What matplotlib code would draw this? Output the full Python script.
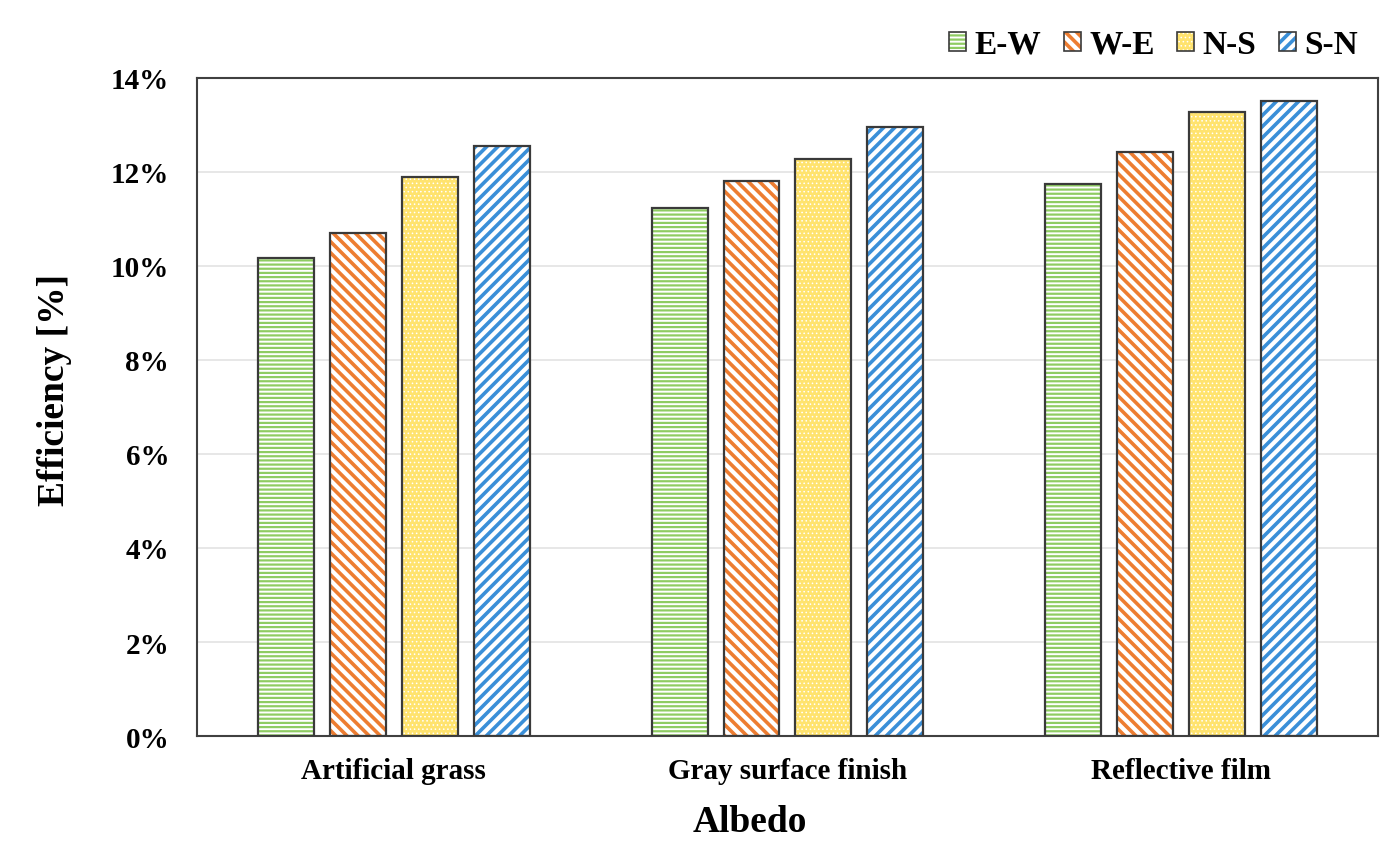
import numpy as np
import matplotlib
matplotlib.use("Agg")
import matplotlib.pyplot as plt
from matplotlib.patches import Patch, Rectangle
from matplotlib.legend_handler import HandlerBase
from matplotlib.ticker import FuncFormatter

# data (efficiency in %)
categories = ["Artificial grass", "Gray surface finish", "Reflective film"]
series = ["E-W", "W-E", "N-S", "S-N"]
ew = [10.17, 11.23, 11.74]
we = [10.70, 11.81, 12.43]
ns = [11.89, 12.28, 13.28]
sn = [12.55, 12.96, 13.51]
yticks = [0, 2, 4, 6, 8, 10, 12, 14]

values = [ew, we, ns, sn]
faces = ["white", "white", "#FFE36E", "white"]
hatch_colors = ["#8FCC62", "#ED7D31", "white", "#3A8FD8"]
hatches = ["----", "\\\\\\", "....", "///"]
hatch_lw = [1.6, 2.6, 0.6, 2.6]
OUTLINE = "#3a3a3a"


def set_hlw(artist, lw):
    if hasattr(artist, "set_hatch_linewidth"):
        artist.set_hatch_linewidth(lw)


class HatchHandler(HandlerBase):
    # hatched square with a dark outline, like the bars
    def create_artists(self, legend, orig, xdescent, ydescent, width, height, fontsize, trans):
        plt.rcParams["hatch.linewidth"] = orig.hlw
        r = Rectangle((-xdescent, -ydescent), width, height, facecolor=orig.get_facecolor(),
                      edgecolor=orig.get_edgecolor(), hatch=orig.get_hatch(), linewidth=0,
                      transform=trans)
        set_hlw(r, orig.hlw)
        o = Rectangle((-xdescent, -ydescent), width, height, fill=False,
                      edgecolor=OUTLINE, linewidth=1.2, transform=trans)
        return [r, o]


plt.rcParams["font.family"] = ["Liberation Serif", "DejaVu Serif"]
plt.rcParams["font.weight"] = "bold"

fig = plt.figure(figsize=(13.91, 8.62), dpi=100)
ax = fig.add_axes([0.1416, 0.145, 0.8490, 0.7634])

x = np.arange(len(categories))
pitch = 0.1827
width = 0.142
offsets = (np.arange(len(series)) - 1.5) * pitch

handles = []
for i, name in enumerate(series):
    plt.rcParams["hatch.linewidth"] = hatch_lw[i]
    bars = ax.bar(x + offsets[i], values[i], width, color=faces[i],
                  edgecolor=hatch_colors[i], hatch=hatches[i], linewidth=0, zorder=2)
    for b in bars:
        set_hlw(b, hatch_lw[i])
    ax.bar(x + offsets[i], values[i], width, fill=False,
           edgecolor=OUTLINE, linewidth=1.6, zorder=3)
    hp = Patch(facecolor=faces[i], edgecolor=hatch_colors[i], hatch=hatches[i], linewidth=0)
    hp.hlw = hatch_lw[i]
    handles.append(hp)

ax.set_xlim(-0.5, 2.5)
ax.set_ylim(0, 14)
ax.set_yticks(yticks)
ax.yaxis.set_major_formatter(FuncFormatter(lambda v, p: f"{v:.0f}%"))
ax.set_xticks(x)
ax.set_xticklabels(categories)
ax.tick_params(axis="y", length=0, pad=20, labelsize=21)
ax.tick_params(axis="x", length=0, pad=15, labelsize=21)
ax.grid(axis="y", color="#e3e3e3", linewidth=1.2, zorder=0)
ax.set_axisbelow(True)
for s in ax.spines.values():
    s.set_color("#404040")
    s.set_linewidth(1.5)

ax.set_xlabel("Albedo", fontsize=27, fontweight="bold")
ax.xaxis.set_label_coords(0.468, -0.103)
ax.set_ylabel("Efficiency [%]", fontsize=27, fontweight="bold")
ax.yaxis.set_label_coords(-0.1057, 0.527)

leg = fig.legend(handles, series, loc="upper right", bbox_to_anchor=(0.998, 1.0),
                 ncol=4, frameon=False, fontsize=24, handlelength=0.5, handleheight=0.5,
                 handletextpad=0.26, columnspacing=0.68,
                 handler_map={Patch: HatchHandler()})
for t in leg.get_texts():
    t.set_fontweight("bold")

fig.savefig("out.png", dpi=100)
